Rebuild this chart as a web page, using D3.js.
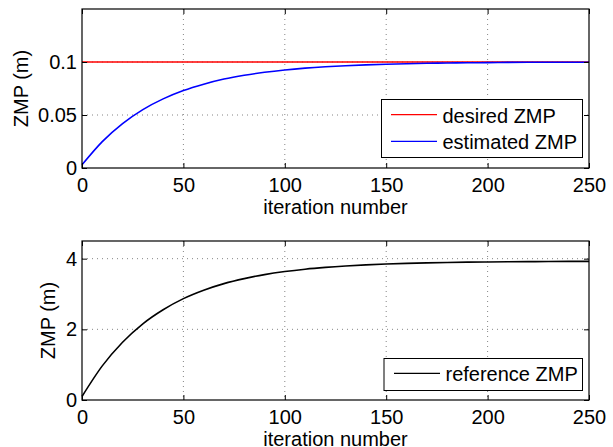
<!DOCTYPE html>
<html>
<head>
<meta charset="utf-8">
<script src="https://cdn.jsdelivr.net/npm/d3@7"></script>
<style>
  html, body { margin: 0; padding: 0; background: #fff; }
  svg { display: block; font-family: "Liberation Sans", Arial, Helvetica, sans-serif; }
</style>
</head>
<body>
<svg id="chart" width="613" height="447"></svg>
<script>
// ---------------- data ----------------
const iterations = [0, 10, 20, 30, 40, 50, 60, 70, 80, 90, 100, 110, 120, 130, 140, 150, 160, 170, 180, 190, 200, 210, 220, 230, 240, 250];
const desiredZMP = [0.1, 0.1, 0.1, 0.1, 0.1, 0.1, 0.1, 0.1, 0.1, 0.1, 0.1, 0.1, 0.1, 0.1, 0.1, 0.1, 0.1, 0.1, 0.1, 0.1, 0.1, 0.1, 0.1, 0.1, 0.1, 0.1];
const estimatedZMP = [0.003, 0.0249, 0.0419, 0.0551, 0.0652, 0.0731, 0.0791, 0.0839, 0.0875, 0.0903, 0.0925, 0.0942, 0.0955, 0.0965, 0.0973, 0.0979, 0.0984, 0.0988, 0.0990, 0.0993, 0.0994, 0.0996, 0.0997, 0.0997, 0.0998, 0.0998];
const referenceZMP = [0.1, 0.966, 1.636, 2.157, 2.555, 2.869, 3.107, 3.294, 3.436, 3.549, 3.635, 3.702, 3.753, 3.793, 3.824, 3.848, 3.867, 3.881, 3.892, 3.901, 3.907, 3.912, 3.916, 3.920, 3.922, 3.924];

const xTicks = [0, 50, 100, 150, 200, 250];
const xTickLabels = ["0", "50", "100", "150", "200", "250"];
const yTicksTop = [0, 0.05, 0.1];
const yTickLabelsTop = ["0", "0.05", "0.1"];
const yTicksBottom = [0, 2, 4];
const yTickLabelsBottom = ["0", "2", "4"];
const xLabel = "iteration number";
const yLabel = "ZMP (m)";
const legendTop = ["desired ZMP", "estimated ZMP"];
const legendBottom = ["reference ZMP"];

// ---------------- drawing ----------------
const svg = d3.select("#chart");
const FS = 20;

function panel(opts) {
  const { top, bottom, left, right, yDomain, yTicks, yLabels, series, legend, yLabelX } = opts;
  const x = d3.scaleLinear().domain([0, 250]).range([left, right]);
  const y = d3.scaleLinear().domain(yDomain).range([bottom, top]);
  const g = svg.append("g");

  // grid
  const grid = g.append("g").attr("stroke", "#666").attr("stroke-width", 0.8)
    .attr("stroke-dasharray", "1,4").attr("fill", "none");
  grid.selectAll(".gx").data(xTicks.filter(d => d > 0 && d < 250)).join("line")
    .attr("x1", d => x(d)).attr("x2", d => x(d)).attr("y1", top).attr("y2", bottom);
  grid.selectAll(".gy").data(yTicks.filter(d => d > yDomain[0])).join("line")
    .attr("x1", left).attr("x2", right).attr("y1", d => y(d)).attr("y2", d => y(d));

  // series
  const line = d3.line().x((d, i) => x(iterations[i])).y(d => y(d)).curve(d3.curveMonotoneX);
  series.forEach(s => {
    g.append("path").datum(s.values).attr("d", line)
      .attr("fill", "none").attr("stroke", s.color).attr("stroke-width", 1.6);
  });

  // axes with inward ticks
  const fmtX = (d) => xTickLabels[xTicks.indexOf(d)];
  const fmtY = (d) => yLabels[yTicks.indexOf(d)];
  const ax = g.append("g").attr("transform", `translate(0,${bottom})`)
    .call(d3.axisBottom(x).tickValues(xTicks).tickFormat(fmtX).tickSizeInner(-5).tickSizeOuter(0).tickPadding(9.5));
  const ay = g.append("g").attr("transform", `translate(${left},0)`)
    .call(d3.axisLeft(y).tickValues(yTicks).tickFormat(fmtY).tickSizeInner(-5).tickSizeOuter(0).tickPadding(5));
  const at = g.append("g").attr("transform", `translate(0,${top})`)
    .call(d3.axisTop(x).tickValues(xTicks).tickFormat("").tickSizeInner(-5).tickSizeOuter(0));
  const ar = g.append("g").attr("transform", `translate(${right},0)`)
    .call(d3.axisRight(y).tickValues(yTicks).tickFormat("").tickSizeInner(-5).tickSizeOuter(0));
  [ax, ay, at, ar].forEach(a => {
    a.select(".domain").remove();
    a.selectAll("line").attr("stroke", "#000").attr("stroke-width", 1);
    a.selectAll("text").attr("font-size", FS).attr("fill", "#000")
      .attr("font-family", "'Liberation Sans', Arial, sans-serif");
  });

  // box
  g.append("rect").attr("x", left).attr("y", top).attr("width", right - left).attr("height", bottom - top)
    .attr("fill", "none").attr("stroke", "#000").attr("stroke-width", 1.2);

  // labels
  g.append("text").attr("x", (left + right) / 2).attr("y", bottom + 45.5)
    .attr("text-anchor", "middle").attr("font-size", FS).text(xLabel);
  g.append("text").attr("transform", `translate(${yLabelX},${(top + bottom) / 2}) rotate(-90)`)
    .attr("text-anchor", "middle").attr("font-size", FS).text(yLabel);

  // legend
  const L = legend;
  const lg = g.append("g");
  lg.append("rect").attr("x", L.x0).attr("y", L.y0).attr("width", L.x1 - L.x0).attr("height", L.y1 - L.y0)
    .attr("fill", "#fff").attr("stroke", "#000").attr("stroke-width", 1);
  L.items.forEach((it, i) => {
    const cy = L.firstY + i * L.step;
    lg.append("line").attr("x1", L.lx0).attr("x2", L.lx1).attr("y1", cy).attr("y2", cy)
      .attr("stroke", it.color).attr("stroke-width", 1.2);
    lg.append("text").attr("x", L.tx).attr("y", cy + 8).attr("font-size", FS).text(it.label);
  });
}

panel({
  top: 9, bottom: 168, left: 82, right: 589,
  yDomain: [0, 0.15], yTicks: yTicksTop, yLabels: yTickLabelsTop, yLabelX: 27.5,
  series: [{ values: desiredZMP, color: "#ff0000" }, { values: estimatedZMP, color: "#0000ff" }],
  legend: { x0: 381.5, x1: 582.5, y0: 99.5, y1: 157.5, lx0: 391, lx1: 437, tx: 442.5, firstY: 114.7, step: 26.6,
    items: [{ label: legendTop[0], color: "#ff0000" }, { label: legendTop[1], color: "#0000ff" }] }
});

panel({
  top: 241, bottom: 400, left: 82, right: 589,
  yDomain: [0, 4.5], yTicks: yTicksBottom, yLabels: yTickLabelsBottom, yLabelX: 55,
  series: [{ values: referenceZMP, color: "#000000" }],
  legend: { x0: 384, x1: 582.5, y0: 358.5, y1: 390.5, lx0: 394, lx1: 440, tx: 445.5, firstY: 373.3, step: 0,
    items: [{ label: legendBottom[0], color: "#000000" }] }
});
</script>
</body>
</html>
